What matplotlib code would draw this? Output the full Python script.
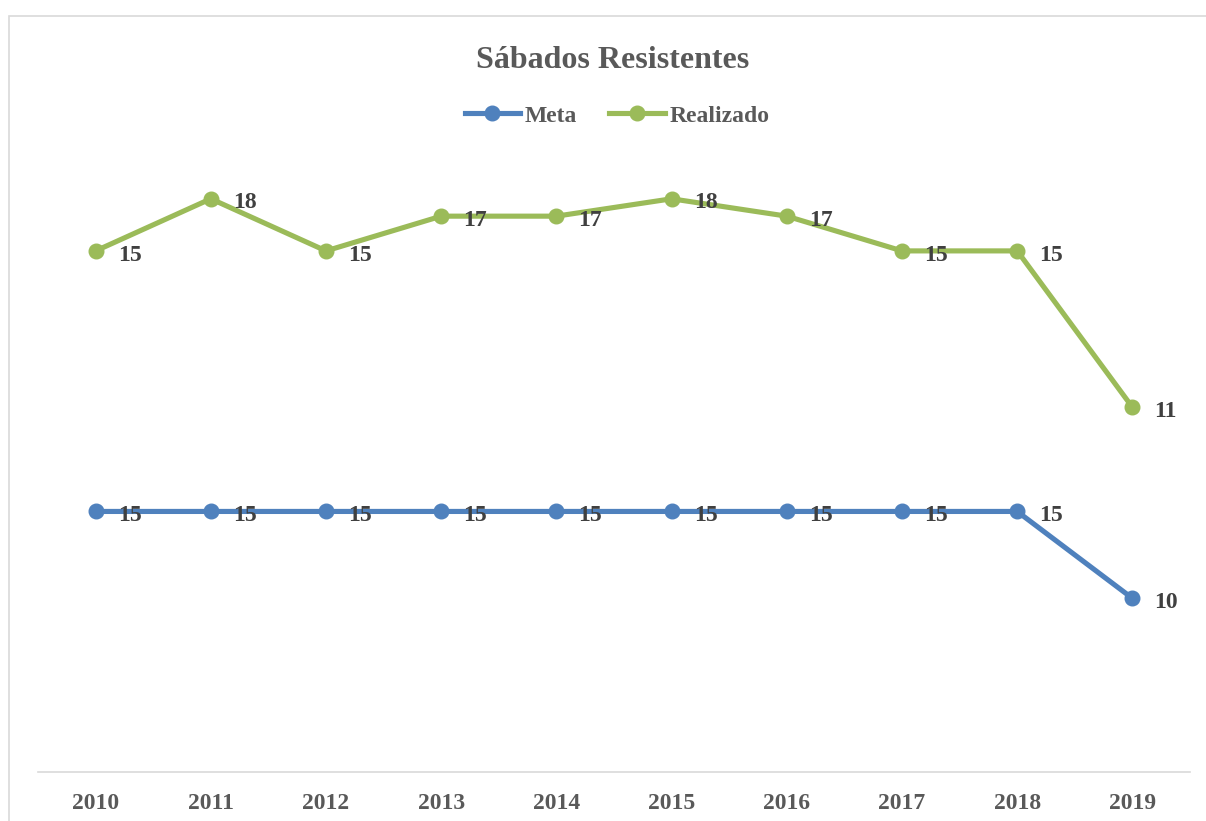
import matplotlib
matplotlib.use("Agg")
import matplotlib.pyplot as plt
from matplotlib.lines import Line2D
from matplotlib.patches import Rectangle
import numpy as np

years = ["2010", "2011", "2012", "2013", "2014", "2015", "2016", "2017", "2018", "2019"]
meta = [15, 15, 15, 15, 15, 15, 15, 15, 15, 10]
realizado = [15, 18, 15, 17, 17, 18, 17, 15, 15, 11]

W, H = 1206, 821
fig = plt.figure(figsize=(W / 100, H / 100), dpi=100)
plt.rcParams['font.family'] = ['Liberation Serif', 'DejaVu Serif']

# chart border
fig.patches.append(Rectangle((9 / W, -0.01), (W - 8) / W, (H - 16) / H + 0.01,
                             transform=fig.transFigure, fill=False,
                             edgecolor='#d9d9d9', linewidth=1.2))

left, right, bottom = 38, 1190, 772
ppu = 17.37
ymax = 35
top = bottom - ymax * ppu
ax = fig.add_axes([left / W, 1 - bottom / H, (right - left) / W, (bottom - top) / H])
x = np.arange(len(years))
ax.set_xlim(-0.5, len(years) - 0.5)
ax.set_ylim(0, ymax)

blue = '#4f81bd'
green = '#9bbb59'
stacked = np.array(meta) + np.array(realizado)

LW, MS = 3.7, 10.5
ax.plot(x, meta, color=blue, lw=LW, marker='o', ms=MS, solid_capstyle='round', zorder=3)
ax.plot(x, stacked, color=green, lw=LW, marker='o', ms=MS, solid_capstyle='round', zorder=3)

for xi, yv, lab in zip(x, meta, meta):
    ax.annotate(str(lab), (xi, yv), xytext=(16, -3), textcoords='offset points',
                ha='left', va='center', fontsize=17, fontweight='bold', color='#404040', zorder=4)
for xi, yv, lab in zip(x, stacked, realizado):
    ax.annotate(str(lab), (xi, yv), xytext=(16, -3), textcoords='offset points',
                ha='left', va='center', fontsize=17, fontweight='bold', color='#404040', zorder=4)

for s in ['top', 'right', 'left']:
    ax.spines[s].set_visible(False)
ax.spines['bottom'].set_color('#d9d9d9')
ax.spines['bottom'].set_linewidth(1.2)
ax.set_yticks([])
ax.set_xticks(x)
ax.set_xticklabels(years, fontsize=17, fontweight='bold', color='#595959')
ax.tick_params(axis='x', length=0, pad=15)

fig.text(613 / W, 1 - 60 / H, "Sábados Resistentes", ha='center', va='center',
         fontsize=23, fontweight='bold', color='#595959')

handles = [Line2D([], [], color=blue, lw=LW, marker='o', ms=MS),
           Line2D([], [], color=green, lw=LW, marker='o', ms=MS)]
fig.legend(handles, ["Meta", "Realizado"], loc='center', bbox_to_anchor=(617 / W, 1 - 116 / H),
           ncol=2, frameon=False, handlelength=2.35, handletextpad=0.2, columnspacing=1.35,
           prop={'size': 17, 'weight': 'bold'}, labelcolor='#595959')

fig.savefig("out.png", dpi=100)
